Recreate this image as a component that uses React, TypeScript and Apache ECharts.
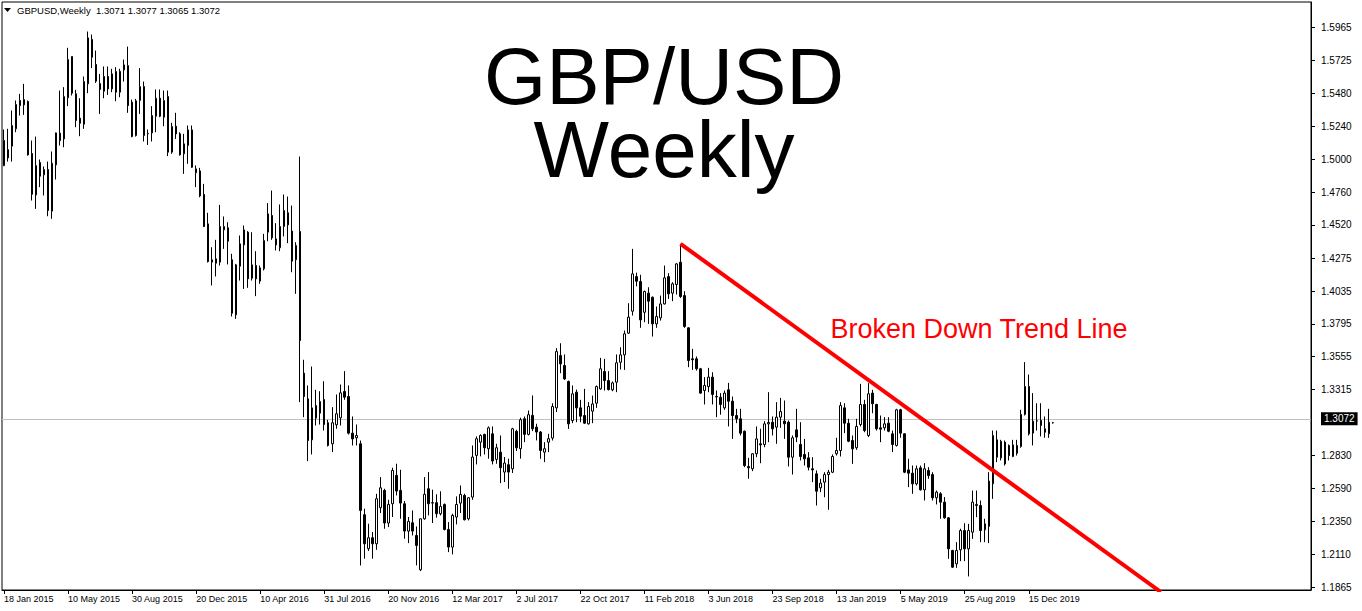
import React, { useEffect, useRef } from "react";
import * as echarts from "echarts";

// ---- data (weekly GBPUSD, bar 0 = week of 18 Jan 2015) ----
const opens = [
  1.5137,1.5010,1.5096,1.5223,1.5430,1.5398,1.5423,1.5042,1.4739,1.4976,
  1.4886,1.4925,1.4620,1.4959,1.5191,1.5149,1.5450,1.5752,1.5479,1.5301,
  1.5257,1.5552,1.5877,1.5694,1.5554,1.5498,1.5606,1.5515,1.5642,1.5491,
  1.5654,1.5686,1.5418,1.5174,1.5430,1.5532,1.5186,1.5193,1.5315,1.5447,
  1.5308,1.5459,1.5052,1.5242,1.5186,1.5040,1.5101,1.5215,1.4901,1.4915,
  1.4742,1.4527,1.4247,1.4271,1.4247,1.4483,1.4498,1.4264,1.3861,1.4217,
  1.4373,1.4466,1.4129,1.4222,1.4108,1.4198,1.4466,1.4588,1.4417,1.4352,
  1.4508,1.4608,1.4474,1.4264,1.4471,1.3434,1.3246,1.2946,1.3197,1.3141,
  1.3241,1.3071,1.2917,1.3056,1.3107,1.3300,1.3263,1.2995,1.2961,1.2917,
  1.2398,1.2149,1.2229,1.2185,1.2449,1.2576,1.2337,1.2478,1.2686,1.2576,
  1.2478,1.2278,1.2339,1.2246,1.1995,1.2368,1.2588,1.2486,1.2486,1.2405,
  1.2473,1.2290,1.2161,1.2381,1.2483,1.2539,1.2368,1.2527,1.2832,1.2929,
  1.2986,1.2881,1.2990,1.2803,1.2856,1.2710,1.2764,1.2734,1.3008,1.2881,
  1.3100,1.2986,1.3125,1.3039,1.3003,1.2856,1.2929,1.2959,1.3180,1.3563,
  1.3490,1.3373,1.3087,1.3295,1.3180,1.3124,1.3063,1.3156,1.3214,1.3319,
  1.3446,1.3380,1.3312,1.3368,1.3514,1.3568,1.3727,1.3888,1.4141,1.4105,
  1.3880,1.4020,1.3990,1.3795,1.3839,1.3941,1.4141,1.4020,1.4083,1.4246,
  1.4002,1.3766,1.3539,1.3539,1.3466,1.3307,1.3336,1.3405,1.3263,1.3258,
  1.3180,1.3312,1.3229,1.3124,1.3100,1.3009,1.2751,1.2734,1.2844,1.2917,
  1.2912,1.3063,1.3075,1.3039,1.3112,1.3083,1.3075,1.2819,1.3019,1.2912,
  1.2839,1.2814,1.2734,1.2697,1.2595,1.2636,1.2692,1.2709,1.2844,1.2868,
  1.3180,1.3068,1.2941,1.2888,1.3058,1.3205,1.2978,1.3288,1.3205,1.3034,
  1.3034,1.3068,1.2990,1.2905,1.3166,1.2990,1.2726,1.2702,1.2624,1.2741,
  1.2580,1.2722,1.2692,1.2522,1.2551,1.2490,1.2375,1.2136,1.2038,1.2141,
  1.2282,1.2148,1.2270,1.2465,1.2465,1.2287,1.2312,1.2624,1.2946,1.2814,
  1.2929,1.2905,1.2824,1.2905,1.2897,1.3132,1.3337,1.2995,1.3083,1.3088,
  1.3027,1.2990,1.3071,
];

const highs = [
  1.5218,1.5223,1.5357,1.5430,1.5479,1.5552,1.5430,1.5137,1.5166,1.4998,
  1.4947,1.4983,1.5057,1.5195,1.5503,1.5528,1.5816,1.5752,1.5508,1.5447,
  1.5606,1.5935,1.5913,1.5796,1.5625,1.5679,1.5679,1.5662,1.5674,1.5662,
  1.5730,1.5825,1.5437,1.5442,1.5667,1.5569,1.5218,1.5389,1.5511,1.5511,
  1.5503,1.5503,1.5267,1.5340,1.5198,1.5186,1.5247,1.5247,1.4955,1.4937,
  1.4820,1.4608,1.4356,1.4410,1.4666,1.4581,1.4539,1.4308,1.4234,1.4442,
  1.4515,1.4474,1.4466,1.4327,1.4222,1.4454,1.4679,1.4771,1.4532,1.4669,
  1.4742,1.4727,1.4661,1.4393,1.5020,1.3532,1.3344,1.3483,1.3312,1.3302,
  1.3375,1.3092,1.3185,1.3278,1.3351,1.3449,1.3344,1.3117,1.3058,1.2941,
  1.2442,1.2332,1.2271,1.2551,1.2673,1.2588,1.2507,1.2742,1.2771,1.2727,
  1.2498,1.2381,1.2429,1.2312,1.2370,1.2673,1.2710,1.2581,1.2547,1.2569,
  1.2480,1.2344,1.2405,1.2532,1.2612,1.2551,1.2527,1.2905,1.2971,1.2986,
  1.2990,1.3044,1.3044,1.2917,1.2978,1.2820,1.2808,1.3034,1.3020,1.3108,
  1.3117,1.3161,1.3271,1.3064,1.3010,1.2929,1.2990,1.3214,1.3617,1.3653,
  1.3571,1.3380,1.3344,1.3314,1.3239,1.3319,1.3222,1.3270,1.3344,1.3546,
  1.3539,1.3449,1.3373,1.3571,1.3624,1.3746,1.3946,1.4344,1.4170,1.4154,
  1.4039,1.4063,1.3995,1.3922,1.4002,1.4222,1.4166,1.4100,1.4239,1.4381,
  1.4034,1.3770,1.3612,1.3556,1.3473,1.3405,1.3473,1.3441,1.3307,1.3288,
  1.3307,1.3363,1.3263,1.3173,1.3173,1.3014,1.2814,1.2848,1.3044,1.3027,
  1.3083,1.3295,1.3117,1.3222,1.3253,1.3234,1.3088,1.2978,1.3173,1.3075,
  1.2953,1.2856,1.2819,1.2722,1.2661,1.2709,1.2726,1.2839,1.2961,1.3222,
  1.3214,1.3100,1.2978,1.3100,1.3356,1.3239,1.3361,1.3312,1.3210,1.3124,
  1.3112,1.3112,1.3014,1.3173,1.3173,1.2995,1.2807,1.2758,1.2758,1.2758,
  1.2775,1.2746,1.2709,1.2575,1.2563,1.2527,1.2380,1.2141,1.2197,1.2295,
  1.2336,1.2331,1.2575,1.2575,1.2502,1.2368,1.2709,1.3014,1.3014,1.2946,
  1.2941,1.2912,1.2946,1.2946,1.3166,1.3515,1.3424,1.3288,1.3214,1.3214,
  1.3117,1.3173,1.3077,
];

const lows = [
  1.4949,1.4983,1.4983,1.5198,1.5320,1.5325,1.5027,1.4698,1.4637,1.4796,
  1.4735,1.4583,1.4564,1.4852,1.5101,1.5088,1.5389,1.5467,1.5235,1.5169,
  1.5223,1.5484,1.5667,1.5559,1.5332,1.5447,1.5471,1.5491,1.5425,1.5454,
  1.5569,1.5340,1.5161,1.5166,1.5332,1.5130,1.5105,1.5130,1.5198,1.5308,
  1.5242,1.5023,1.5040,1.5149,1.5027,1.4893,1.4967,1.4937,1.4796,1.4722,
  1.4503,1.4244,1.4076,1.4142,1.4222,1.4344,1.4230,1.3849,1.3832,1.4112,
  1.4051,1.4059,1.4112,1.3998,1.4088,1.4186,1.4400,1.4410,1.4332,1.4327,
  1.4435,1.4386,1.4173,1.4015,1.3222,1.3112,1.2790,1.2839,1.3051,1.3058,
  1.3014,1.2897,1.2856,1.3027,1.3051,1.3239,1.2985,1.2905,1.2905,1.2026,
  1.2076,1.2132,1.2076,1.2141,1.2410,1.2295,1.2307,1.2381,1.2539,1.2368,
  1.2222,1.2190,1.2246,1.2027,1.1985,1.2361,1.2393,1.2337,1.2376,1.2393,
  1.2283,1.2124,1.2107,1.2327,1.2410,1.2356,1.2356,1.2507,1.2766,1.2825,
  1.2839,1.2808,1.2766,1.2771,1.2629,1.2637,1.2588,1.2703,1.2864,1.2808,
  1.2929,1.2978,1.3010,1.2942,1.2807,1.2783,1.2856,1.2941,1.3149,1.3434,
  1.3385,1.3026,1.3068,1.3075,1.3075,1.3063,1.3058,1.3068,1.3180,1.3312,
  1.3307,1.3307,1.3302,1.3295,1.3461,1.3458,1.3722,1.3856,1.4070,1.3766,
  1.3807,1.3795,1.3702,1.3766,1.3819,1.3937,1.3978,1.3961,1.4010,1.3985,
  1.3766,1.3478,1.3458,1.3453,1.3283,1.3205,1.3295,1.3205,1.3112,1.3130,
  1.3166,1.3044,1.2953,1.3068,1.2978,1.2746,1.2661,1.2717,1.2819,1.2775,
  1.2892,1.2929,1.2978,1.2917,1.3034,1.2953,1.2751,1.2692,1.2929,1.2795,
  1.2758,1.2722,1.2636,1.2465,1.2563,1.2526,1.2434,1.2702,1.2831,1.2824,
  1.2995,1.2929,1.2770,1.2873,1.3044,1.3002,1.2966,1.3141,1.3014,1.2929,
  1.3014,1.3002,1.2856,1.2897,1.2961,1.2702,1.2600,1.2551,1.2612,1.2575,
  1.2502,1.2661,1.2502,1.2473,1.2368,1.2368,1.2075,1.2009,1.2009,1.2058,
  1.2058,1.1946,1.2221,1.2380,1.2197,1.2197,1.2190,1.2514,1.2783,1.2795,
  1.2758,1.2795,1.2819,1.2831,1.2888,1.3124,1.2978,1.2905,1.3014,1.2971,
  1.2961,1.2961,1.3065,
];

const closes = [
  1.4954,1.5071,1.5247,1.5401,1.5393,1.5437,1.5032,1.4744,1.4954,1.4876,
  1.4925,1.4625,1.4971,1.5193,1.5137,1.5459,1.5730,1.5484,1.5284,1.5264,
  1.5569,1.5889,1.5747,1.5572,1.5511,1.5606,1.5515,1.5625,1.5491,1.5644,
  1.5691,1.5393,1.5166,1.5428,1.5532,1.5174,1.5189,1.5320,1.5447,1.5315,
  1.5430,1.5052,1.5240,1.5186,1.5032,1.5113,1.5215,1.4942,1.4930,1.4732,
  1.4508,1.4251,1.4264,1.4239,1.4508,1.4508,1.4400,1.3873,1.4227,1.4381,
  1.4483,1.4125,1.4227,1.4125,1.4205,1.4405,1.4600,1.4425,1.4373,1.4508,
  1.4625,1.4520,1.4254,1.4369,1.3673,1.3263,1.2941,1.3180,1.3105,1.3227,
  1.3058,1.2905,1.3071,1.3137,1.3290,1.3258,1.2995,1.2953,1.2978,1.2429,
  1.2185,1.2229,1.2185,1.2515,1.2595,1.2337,1.2473,1.2722,1.2571,1.2483,
  1.2278,1.2349,1.2278,1.2173,1.2368,1.2547,1.2478,1.2483,1.2405,1.2459,
  1.2290,1.2161,1.2393,1.2473,1.2547,1.2361,1.2522,1.2820,1.2954,1.2978,
  1.2888,1.3034,1.2791,1.2888,1.2742,1.2776,1.2710,1.3027,1.2888,1.3093,
  1.2986,1.3130,1.3027,1.3003,1.2868,1.2881,1.2954,1.3190,1.3592,1.3502,
  1.3392,1.3063,1.3283,1.3180,1.3119,1.3068,1.3190,1.3209,1.3336,1.3466,
  1.3380,1.3314,1.3363,1.3510,1.3568,1.3722,1.3844,1.4161,1.4107,1.3824,
  1.4032,1.3961,1.3795,1.3849,1.3941,1.4132,1.4015,1.4088,1.4234,1.3995,
  1.3776,1.3527,1.3532,1.3466,1.3288,1.3344,1.3405,1.3278,1.3260,1.3205,
  1.3288,1.3229,1.3124,1.3100,1.2995,1.2758,1.2741,1.2844,1.2953,1.2909,
  1.3063,1.3073,1.3027,1.3112,1.3153,1.3063,1.2819,1.2961,1.2966,1.2824,
  1.2807,1.2746,1.2726,1.2570,1.2629,1.2692,1.2709,1.2824,1.2868,1.3197,
  1.3068,1.2936,1.2880,1.3044,1.3205,1.3014,1.3283,1.3210,1.3027,1.3024,
  1.3063,1.3009,1.2912,1.3166,1.2995,1.2709,1.2702,1.2624,1.2734,1.2580,
  1.2734,1.2685,1.2522,1.2563,1.2490,1.2375,1.2148,1.2014,1.2136,1.2282,
  1.2148,1.2282,1.2490,1.2473,1.2282,1.2331,1.2644,1.2978,1.2819,1.2936,
  1.2770,1.2831,1.2909,1.2848,1.3132,1.3337,1.2990,1.3083,1.3085,1.3051,
  1.3002,1.3075,1.3072,
];

const xTickLabels = [
  "18 Jan 2015", "10 May 2015", "30 Aug 2015", "20 Dec 2015", "10 Apr 2016",
  "31 Jul 2016", "20 Nov 2016", "12 Mar 2017", "2 Jul 2017", "22 Oct 2017",
  "11 Feb 2018", "3 Jun 2018", "23 Sep 2018", "13 Jan 2019", "5 May 2019",
  "25 Aug 2019", "15 Dec 2019",
];

const yTickValues = [
  1.1865, 1.2110, 1.2350, 1.2590, 1.2830, 1.3315, 1.3555, 1.3795, 1.4035,
  1.4275, 1.4520, 1.4760, 1.5000, 1.5240, 1.5480, 1.5725, 1.5965,
];

// trend line: from the April 2018 swing high, extended down-right
const trendPoints = [
  [169, 1.4381],
  [289, 1.1832],
];

const symbolName = "GBPUSD";
const periodName = "Weekly";
const titleLines = ["GBP/USD", "Weekly"];
const annotation = "Broken Down Trend Line";

const MONTHS = ["Jan","Feb","Mar","Apr","May","Jun","Jul","Aug","Sep","Oct","Nov","Dec"];
const FIRST_WEEK = Date.UTC(2015, 0, 18);
const SLOTS = 327; // visible bar slots across the chart window

function weekLabel(i: number): string {
  const d = new Date(FIRST_WEEK + i * 7 * 86400000);
  return `${d.getUTCDate()} ${MONTHS[d.getUTCMonth()]} ${d.getUTCFullYear()}`;
}

export default function App() {
  const ref = useRef<HTMLDivElement>(null);

  useEffect(() => {
    if (!ref.current) return;
    const chart = echarts.init(ref.current, undefined, { renderer: "svg" });

    const categories: string[] = [];
    for (let i = 0; i < SLOTS; i++) categories.push(weekLabel(i));
    const nBars = closes.length;
    const showTick = (index: number, value: string) =>
      index < nBars && xTickLabels.includes(value);

    const candles = opens.map((o, i) => [o, closes[i], lows[i], highs[i]]);
    const last = nBars - 1;
    const fmt = (v: number) => v.toFixed(4);
    const header = `${symbolName},${periodName}  ${fmt(opens[last])} ${fmt(highs[last])} ${fmt(lows[last])} ${fmt(closes[last])}`;

    const axisFont = '"Liberation Sans", Arial, sans-serif';

    chart.setOption({
      animation: false,
      backgroundColor: "#ffffff",
      grid: {
        left: 2,
        right: 51,
        top: 2,
        bottom: 21,
        show: true,
        borderColor: "#000",
        borderWidth: 1,
        backgroundColor: "transparent",
      },
      xAxis: {
        type: "category",
        data: categories,
        boundaryGap: true,
        axisLine: { show: true, lineStyle: { color: "#000", width: 1 } },
        axisTick: {
          show: true,
          interval: showTick,
          alignWithLabel: true,
          length: 4,
          lineStyle: { color: "#000" },
        },
        axisLabel: {
          interval: showTick,
          align: "left",
          margin: 4,
          fontSize: 9,
          fontFamily: axisFont,
          color: "#000",
        },
        splitLine: { show: false },
      },
      yAxis: {
        type: "value",
        position: "right",
        min: 1.18467,
        max: 1.61513,
        axisLine: { show: true, lineStyle: { color: "#000", width: 1 } },
        axisTick: {
          show: true,
          length: 4,
          customValues: yTickValues,
          lineStyle: { color: "#000" },
        },
        axisLabel: {
          customValues: yTickValues,
          formatter: (v: number) => v.toFixed(4),
          margin: 10,
          fontSize: 10,
          fontFamily: axisFont,
          color: "#000",
        },
        splitLine: { show: false },
      },
      series: [
        {
          type: "candlestick",
          data: candles,
          barWidth: 2,
          itemStyle: {
            color: "#ffffff",
            color0: "#000000",
            borderColor: "#000000",
            borderColor0: "#000000",
            borderWidth: 1,
          },
          markLine: {
            silent: true,
            symbol: "none",
            z: 1,
            lineStyle: { color: "#c0c0c0", width: 1, type: "solid" },
            label: {
              show: true,
              position: "end",
              distance: 10,
              formatter: () => fmt(closes[last]),
              backgroundColor: "#000",
              color: "#fff",
              padding: [2, 3, 1, 3],
              fontSize: 10,
              fontFamily: axisFont,
            },
            data: [{ yAxis: closes[last] }],
          },
          z: 3,
        },
        {
          type: "line",
          data: trendPoints,
          symbol: "none",
          clip: true,
          lineStyle: { color: "#ff0000", width: 4 },
          z: 5,
        },
      ],
      graphic: [
        {
          type: "polygon",
          shape: { points: [[4, 8], [11, 8], [7.5, 12]] },
          style: { fill: "#000" },
          z: 10,
        },
        {
          type: "text",
          x: 17,
          y: 10,
          style: {
            text: header,
            font: '9.5px "Liberation Sans", Arial, sans-serif',
            fill: "#000",
            align: "left",
            verticalAlign: "middle",
            textAlign: "left",
            textVerticalAlign: "middle",
          },
          z: 10,
        },
        {
          type: "text",
          x: 664,
          y: 113,
          style: {
            text: titleLines.join("\n"),
            font: '80px "Liberation Sans", Arial, sans-serif',
            lineHeight: 73,
            fill: "#000",
            align: "center",
            verticalAlign: "middle",
            textAlign: "center",
            textVerticalAlign: "middle",
          },
          z: 10,
        },
        {
          type: "text",
          x: 979,
          y: 329,
          style: {
            text: annotation,
            font: '27px "Liberation Sans", Arial, sans-serif',
            fill: "#ff0000",
            align: "center",
            verticalAlign: "middle",
            textAlign: "center",
            textVerticalAlign: "middle",
          },
          z: 10,
        },
      ],
    });

    return () => chart.dispose();
  }, []);

  return (
    <div
      ref={ref}
      style={{ position: "absolute", left: 0, top: 0, width: 1362, height: 611, background: "#fff" }}
    />
  );
}
